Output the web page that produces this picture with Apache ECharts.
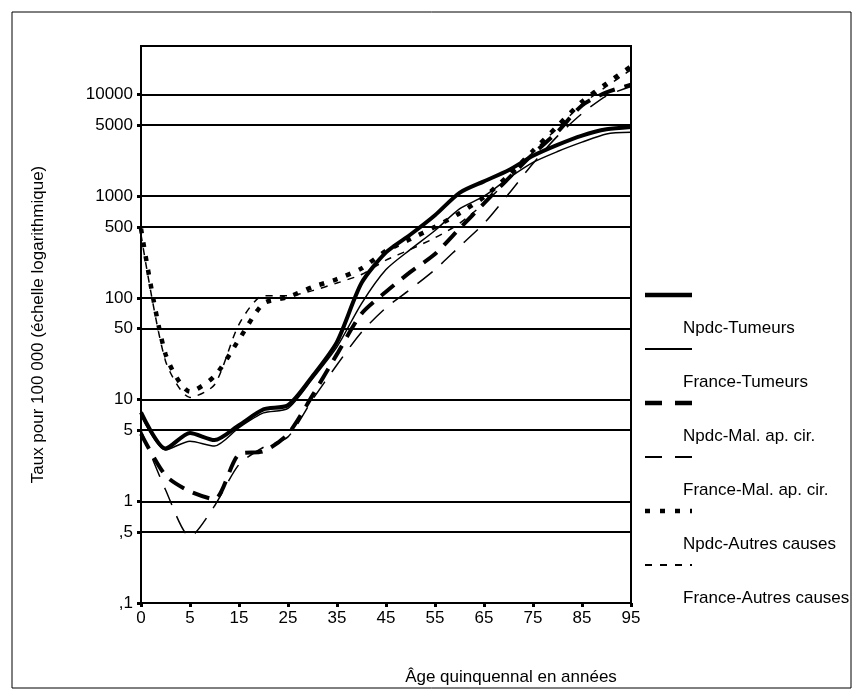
<!DOCTYPE html>
<html lang="fr">
<head>
  <meta charset="UTF-8">
  <title>Taux par âge</title>
  <style>html, body { margin: 0; padding: 0; background: #fff; }</style>
</head>
<body>
  <div id="main" style="width: 862px; height: 700px"></div>
  <script src="https://cdn.jsdelivr.net/npm/echarts@6/dist/echarts.min.js"></script>
  <script>
    // tranches d'âge (0, 1-4, 5-9, ... 95+)
    const ages = ['0', '1', '5', '10', '15', '20', '25', '30', '35', '40', '45',
                  '50', '55', '60', '65', '70', '75', '80', '85', '90', '95'];

    const npdcTumeurs   = [7.5, 3.3, 4.7, 4.0, 5.6, 8.0, 8.8, 17, 37, 140, 280, 420, 650, 1080, 1400, 1800, 2500, 3200, 3950, 4550, 4800];
    const franceTumeurs = [7.0, 3.2, 3.9, 3.5, 5.3, 7.4, 8.2, 16, 33, 88, 190, 300, 460, 750, 1000, 1500, 2150, 2750, 3400, 4100, 4250];
    const npdcMal       = [4.6, 1.8, 1.25, 1.05, 2.9, 3.1, 4.6, 11, 28, 70, 115, 180, 270, 480, 850, 1500, 2600, 4300, 7800, 10500, 12500];
    const franceMal     = [5.0, 1.3, 0.45, 0.9, 2.3, 3.4, 4.3, 10, 22, 46, 80, 122, 190, 320, 540, 1050, 2100, 3900, 6500, 9700, 12000];
    const npdcAutres    = [480, 28, 12, 17, 39, 88, 102, 128, 153, 195, 290, 380, 500, 680, 980, 1600, 2800, 4900, 8500, 12800, 18900];
    const franceAutres  = [420, 24, 10.5, 14, 55, 105, 105, 118, 140, 170, 235, 300, 390, 540, 850, 1450, 2700, 4700, 8000, 12000, 17500];

    const yTicks = [0.1, 0.5, 1, 5, 10, 50, 100, 500, 1000, 5000, 10000];

    const legendNames = ['Npdc-Tumeurs', 'France-Tumeurs', 'Npdc-Mal. ap. cir.',
                         'France-Mal. ap. cir.', 'Npdc-Autres causes', 'France-Autres causes'];

    const font = "'Liberation Sans', Arial, sans-serif";

    // traits : épaisseur, pointillés dans le graphique, pointillés dans la légende
    const styles = [
      { width: 4,   dash: 'solid',  legDash: null },
      { width: 1.5, dash: 'solid',  legDash: null },
      { width: 4,   dash: [17, 10], legDash: [17, 13] },
      { width: 1.5, dash: [19, 12], legDash: [17, 13] },
      { width: 4.5, dash: [5, 9],   legDash: [5, 10] },
      { width: 1.5, dash: [7, 7],   legDash: [7, 8] }
    ];
    const allData = [npdcTumeurs, franceTumeurs, npdcMal, franceMal, npdcAutres, franceAutres];

    const series = allData.map(function (d, i) {
      return {
        name: legendNames[i],
        type: 'line',
        data: d,
        symbol: 'none',
        smooth: 0.25,
        lineStyle: { color: '#000', width: styles[i].width, type: styles[i].dash }
      };
    });

    // légende faite à la main : le trait, puis le libellé en dessous
    const legendGraphics = [];
    legendNames.forEach(function (name, i) {
      const ly = 295 + i * 54;
      legendGraphics.push({
        type: 'line',
        shape: { x1: 645, y1: ly, x2: 692, y2: ly },
        style: {
          stroke: '#000',
          lineWidth: styles[i].width === 1.5 ? 2 : 4.5,
          lineDash: styles[i].legDash
        }
      });
      legendGraphics.push({
        type: 'text',
        x: 683, y: ly + 33,
        style: { text: name, fill: '#000', font: '17px ' + font, verticalAlign: 'middle' }
      });
    });

    let myChart = echarts.init(document.getElementById('main'));
    let option = {
      backgroundColor: '#fff',
      animation: false,
      textStyle: { fontFamily: font, color: '#000' },
      grid: {
        left: 141, top: 46, right: 231, bottom: 97,
        show: true, borderColor: '#000', borderWidth: 2
      },
      xAxis: {
        type: 'category',
        data: ages,
        boundaryGap: false,
        name: 'Âge quinquennal en années',
        nameLocation: 'middle',
        nameGap: 66,
        nameTextStyle: { fontSize: 17, color: '#000', padding: [0, 0, 0, 250] },
        axisLine: { lineStyle: { color: '#000', width: 2 } },
        axisTick: { interval: 1, length: 4, lineStyle: { color: '#000', width: 3 } },
        axisLabel: { interval: 1, fontSize: 17, color: '#000', margin: 7 },
        splitLine: { show: false }
      },
      yAxis: {
        type: 'log',
        logBase: 10,
        min: 0.1,
        max: 30000,
        name: 'Taux pour 100 000 (échelle logarithmique)',
        nameLocation: 'middle',
        nameGap: 94,
        nameTextStyle: { fontSize: 17, color: '#000' },
        axisLine: { show: true, lineStyle: { color: '#000', width: 2 } },
        axisTick: { show: true, customValues: yTicks, length: 4, lineStyle: { color: '#000', width: 3 } },
        axisLabel: {
          customValues: yTicks,
          fontSize: 17, color: '#000', margin: 8,
          formatter: function (v) {
            if (v < 1) return ',' + Math.round(v * 10);
            return String(Math.round(v));
          }
        },
        splitLine: { show: true, lineStyle: { color: '#000', width: 2 } }
      },
      graphic: [
        {
          type: 'rect',
          shape: { x: 12, y: 12, width: 839, height: 676 },
          style: { fill: 'none', stroke: '#000', lineWidth: 1 }
        }
      ].concat(legendGraphics),
      series: series
    };
    myChart.setOption(option);
  </script>
</body>
</html>
